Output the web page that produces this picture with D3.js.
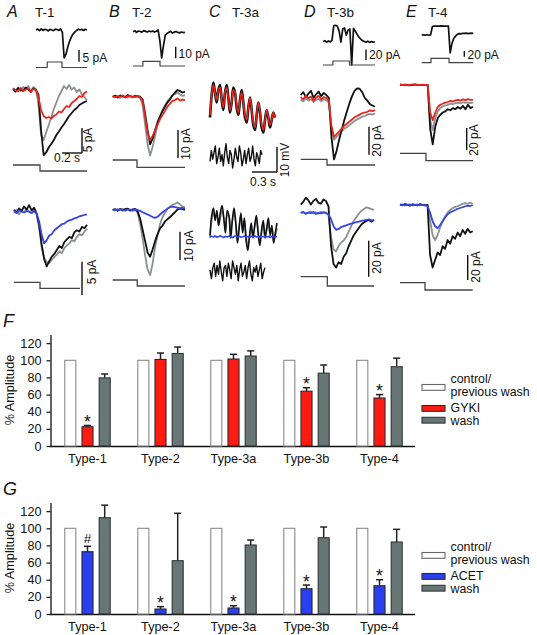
<!DOCTYPE html>
<html><head><meta charset="utf-8">
<script src="https://cdn.jsdelivr.net/npm/d3@7"></script>
<style>
body{margin:0;background:#fff}
svg{display:block}
text{font-family:"Liberation Sans",Arial,Helvetica,sans-serif;fill:#111}
</style>
</head><body>
<svg id="fig" width="537" height="635"></svg>
<script>
// ---------------- bar chart data ----------------
const categories = ["Type-1","Type-2","Type-3a","Type-3b","Type-4"];
const controlF = [100,100,100,100,100];
const gykiMean = [22.5,101,101.5,64,56];
const gykiErr  = [1.5,7.5,5.5,4,4];
const washFMean = [79.5,108,105,85,92.5];
const washFErr  = [4.5,7.5,6,9.5,10];
const sigF = ["*","","","*","*"];

const controlG = [100,100,100,100,100];
const acetMean = [72.7,5.8,7,29.5,33];
const acetErr  = [6.3,2.8,2.7,4.3,7];
const washGMean = [112.4,62.2,80.5,89,84];
const washGErr  = [14.6,55.3,5.8,12.5,14.8];
const sigG = ["#","*","*","*","*"];

const yTicks = [0,20,40,60,80,100,120];

// ---------------- example traces (pA or mV, 0 = baseline) ----------------
const insetA = [0,0.4,-0.3,0.5,-0.2,0.3,0.1,-0.4,0.3,0,-0.3,0.4,0.2,-0.2,0.5,-1,-12,-10.5,-7.5,-5,-3.2,-1.8,-0.9,-0.3,0.4,0,0.3,-0.2,0.3,0];
const insetB = [0,0.8,-0.5,0.6,0.2,-0.4,0.9,0.3,-0.2,0.6,0,0.5,-0.3,0.4,1.5,-8,-22.6,-12,-3,-1.5,-0.5,0.3,-1.2,-0.4,0.2,-0.6,-1,-0.3,-0.8,-0.5];
const insetD = [0,2,-1,1.5,-0.5,2.5,30,31,29,20,-1,24,26,12,22,24,-44,25,20,14,9,5,2,0.5,-1,1,-1.5,0.5,-1,0];
const insetE = [0,0.8,-0.5,1,-0.8,0.4,30,31.6,31,31.5,31.2,31.8,31,31.4,31.6,31,-63,-30,-12,-4,2,5,4,6,5.5,6.5,5,6,6.8,6];

// row 1: control (black), GYKI (red), wash (gray)
const r1A_black = [0.2,-0.3,0.4,0,-0.2,0.5,0.1,-0.4,0.3,0,-1,-8,-13,-12.5,-11.5,-10.8,-10,-9,-8.3,-7.5,-6.8,-6,-5.2,-4.6,-4,-3.6,-3,-2.7,-2.4,-2.2];
const r1A_red   = [0.3,0,-0.3,0.4,-0.2,0.1,0.3,-0.4,0.2,0,-1.5,-4,-5.2,-5.6,-5.4,-5.7,-5.2,-4.9,-4.3,-4.5,-3.8,-3.2,-3.4,-2.6,-2.2,-1.8,-1.2,-1.4,-0.6,-0.3];
const r1A_gray  = [0.4,-0.3,0.5,-0.2,0.6,0.1,0.8,-0.3,0.6,0.2,-3,-9,-10,-8.5,-7,-5.5,-3.8,-2.5,-1.2,-0.2,0.8,0.2,1.0,0.1,0.5,-0.4,0.1,-0.9,-1.4,-2.0];
const r1B_black = [0,0.4,-0.3,0.5,0.1,-0.2,0.6,0.2,-0.1,0.3,0.2,0,-1,-6,-12,-17,-15,-12,-9,-7,-5,-3.5,-2,-1,0.5,1.5,2.4,2.0,1.5,1.8];
const r1B_red   = [0.3,-0.2,0.2,0,0.5,-0.3,0.1,0.3,-0.2,0,0.2,-0.3,-1.5,-7,-13,-15.5,-14,-12,-10,-8,-6.5,-5,-3.5,-2.5,-1.5,-1.2,-0.6,-1.4,-1.0,-1.2];
const r1B_gray  = [-0.2,0.2,0,-0.4,0.3,0,-0.3,0.2,0.1,-0.2,0,-0.5,-3,-10,-17,-21,-18,-14,-10,-7,-5,-3,-1.5,-0.5,0.5,1,1.5,0.8,0.3,0.5];
const r1C_black = [-5,4,9,5,1,6,8,2,-2,5,8,3,-3,1,7,5,-1,-4,2,6,1,-5,-7,-1,3,-2,-8,-10,-4,1,-3,-9,-11,-6,-2,-5,-9,-6,-3,-5];
const r1C_red   = [-4,4,8,5,2,6,7,2,-1,5,7,3,-2,1,6,5,0,-3,2,5,1,-4,-6,-1,3,-2,-7,-9,-4,1,-3,-8,-10,-6,-2,-5,-8,-6,-3,-5];
const r1C_low   = [-2,3,-1,2,5,-3,0,4,-2,1,-4,2,6,0,-3,3,1,-5,-1,4,0,-2,5,2,-4,-1,3,-3,1,4,-2,0,5,-1,-4,2,0,-3,3,1];
const r1D_black = [0,2,-1.5,1,3,-2,0.5,2.5,-1,1.5,0,-2,-30,-46,-40,-32,-25,-18,-12,-6,-1,3,4.8,4.5,2,-2,-4,-6.5,-7.5,-8.4];
const r1D_red   = [-1.5,-3,-0.5,-2.5,-1,-4,-2,-0.5,-3,-1.5,-2,-4,-22,-30,-28,-26,-24,-22,-20.5,-19,-17.5,-16,-15,-14,-13,-12.5,-12,-11,-11.5,-10.7];
const r1D_gray  = [-3.5,-4.5,-2.5,-4,-3,-5,-3.5,-2.8,-4.5,-3,-3.8,-5.5,-24,-32,-30,-28,-26,-24,-23,-21.5,-20,-18.5,-17.5,-16.5,-15.5,-15,-14,-13.5,-14,-13];
const r1E_black = [0.3,-0.2,0.4,0,-0.3,0.2,0.5,-0.1,0.2,0,-0.2,0.1,-40,-54,-38,-30,-27,-25,-24,-22,-23,-21,-22,-20,-21.5,-19,-22,-18,-21,-19.7];
const r1E_red   = [0.5,0,0.3,-0.4,0.2,0.6,0,0.3,-0.2,0.4,0,0.2,-25,-32,-25,-20,-18,-17,-16,-15.5,-14.5,-15,-14,-13.5,-14.2,-13,-13.8,-12.8,-13.5,-13.6];
const r1E_gray  = [0,0.2,-0.3,0.1,0,-0.2,0.3,0,-0.1,0.2,-0.3,0,-32,-41,-30,-24,-21,-19.5,-18.5,-18,-17,-17.5,-16.5,-16,-16.8,-15.5,-16.2,-15.8,-16.5,-16];

// row 2: previous wash (black), ACET (blue), wash (gray)
const r2A_black = [0.3,-0.2,0.5,0.1,0.8,0.3,1.0,0.2,0.6,-0.3,-2,-5,-7.2,-8.3,-7.5,-6.8,-6.4,-5.8,-5.2,-5.5,-4.6,-4.2,-3.8,-4.0,-3.1,-2.8,-3.0,-2.3,-2.5,-2.0];
const r2A_gray  = [-0.2,0.3,-0.4,0.2,-0.1,0.4,0,-0.2,0.3,-0.4,-2.5,-5.5,-7,-7.6,-7.8,-7.3,-6.9,-6.5,-6,-6.3,-5.5,-5.1,-4.8,-4.3,-4.5,-3.8,-3.4,-3.6,-3.0,-2.6];
const r2A_blue  = [0.1,-0.2,0.2,0,-0.1,0.1,0,-0.2,0.1,-0.3,-1.5,-3.5,-4.8,-4.3,-3.6,-3.4,-2.8,-2.5,-2.2,-1.9,-1.8,-1.5,-1.3,-1.2,-1.0,-0.9,-0.7,-0.6,-0.5,-0.4];
const r2B_black = [0,0.3,-0.3,0.4,-0.2,0.3,0.5,-0.2,0.2,0.4,-0.5,-3,-7,-11,-15,-16.5,-14,-11,-8.5,-6.5,-5.5,-4,-3.2,-2.5,-1.6,-0.8,0.2,0.5,0.3,0];
const r2B_gray  = [0.2,-0.2,0.3,0,0.4,-0.1,0.2,0,-0.3,0.1,-1,-5,-10,-16,-21,-23,-19,-13,-9,-5,-2.5,-1,0.5,1.2,1.8,2.2,2.6,2.0,1.2,1.0];
const r2B_blue  = [0,0.2,-0.1,0.3,0,-0.2,0.2,0.1,-0.1,0.2,0,-0.3,-0.8,-1.2,-1.6,-2,-2.5,-2.8,-2.4,-1.6,-0.8,-0.2,0.5,1.0,1.2,1.0,0.8,0.6,0.8,0.5];
const r2C_black = [-3,5,8,3,7,1,6,9,4,-2,7,5,-4,3,8,2,-6,0,6,-2,4,-5,-9,-3,2,-4,1,5,-2,-7,-1,3,-4,0,4,-3,1,-6,-2,2];
const r2C_gray  = [-4,3,6,4,5,1,4,7,4,0,5,5,-2,3,6,2,-4,1,5,0,3,-3,-7,-4,0,-3,0,3,-1,-5,-2,2,-3,-1,2,-2,0,-4,-3,0];
const r2C_blue  = [-3.5,-3.3,-3.6,-3.2,-3.7,-3.4,-3.1,-3.5,-3.8,-3.3,-3.6,-3.2,-3.5,-3.9,-3.4,-3.1,-3.6,-3.3,-3.7,-3.5,-3.2,-3.6,-3.4,-3.8,-3.3,-3.5,-3.1,-3.6,-3.4,-3.7,-3.3,-3.5,-3.2,-3.6,-3.4,-3.8,-3.3,-3.5,-3.6,-3.4];
const r2C_low   = [1,-3,2,4,-2,3,-1,5,0,-4,2,3,-2,4,1,-3,5,2,-1,3,-4,1,4,-2,0,3,-3,2,5,-1,-4,2,0,3,-2,1,4,-3,0,2];
const r2D_black = [3,4.5,6.8,5.5,3,5,6.2,4,3.5,5.8,5,2,-20,-30,-32,-29,-30,-26,-24,-20,-17,-14,-12,-10,-8,-7,-6,-5.5,-6.5,-5.6];
const r2D_gray  = [-1.5,-1,-2.2,-1.4,-0.8,-1.8,-1.2,-2,-1,-1.5,-1.2,-3,-15,-22,-23,-20,-18,-17,-15,-12,-9,-6,-4,-2,-0.5,0.5,1.5,1.0,0.5,0];
const r2D_blue  = [-1.7,-1.2,-2,-1.5,-1.8,-1.1,-2.2,-1.6,-1.9,-1.3,-1.8,-2.5,-5,-9,-11,-10.5,-9.5,-9,-8.5,-8,-7.6,-7.2,-6.8,-6.5,-6,-5.8,-5.5,-5.2,-5.8,-5.6];
const r2E_black = [0.5,-0.3,0.8,0.2,-0.5,0.6,0.1,-0.4,0.7,0,-0.3,0.2,-40,-50,-44,-38,-40,-33,-35,-28,-31,-25,-27,-22,-25,-20,-23,-19,-22,-21];
const r2E_gray  = [0,0.3,-0.2,0.4,0,-0.3,0.2,0.1,-0.2,0.3,0,-0.5,-12,-24,-28,-24,-18,-13,-9,-6,-4,-2.5,-1.5,-1,0,1,1.5,1.0,2,1];
const r2E_blue  = [0,0.2,-0.3,0.1,0.3,-0.2,0,0.2,-0.1,0.1,-0.2,-1,-6,-13,-17,-18.6,-16,-13,-10,-7.5,-6,-5,-4,-3,-2.4,-1.8,-1,-0.5,-0.8,0];

// voltage protocols (fraction of sweep where level changes)
const insetPulse = [[0.22,0.51],[0.19,0.52],[0.19,0.51],[0.18,0.53]];
const row1StepT = [0.365,0.336,0.354,0.356];
const row2StepT = [0.394,0.34,0.363,0.344];

// ---------------- drawing ----------------
const svg = d3.select("#fig");
const C = {black:"#111", red:"#e8261e", gray:"#8c9191", blue:"#3545e6", step:"#444"};

function trace(vals, x0, x1, base, k, color, w, smooth) {
  const xs = d3.scaleLinear().domain([0, vals.length - 1]).range([x0, x1]);
  const ys = d3.scaleLinear().domain([0, 1]).range([base, base - k]);
  const line = d3.line().x((d,i) => xs(i)).y(d => ys(d));
  if (smooth) line.curve(d3.curveCatmullRom);
  svg.append("path")
    .attr("d", line(vals))
    .attr("fill","none").attr("stroke",color).attr("stroke-width",w||1.8)
    .attr("stroke-linejoin","round");
}
function stepDown(t, x0, x1, yHigh, yLow) {
  const xs = d3.scaleLinear().domain([0,1]).range([x0,x1]);
  const pts = [[0,yHigh],[t,yHigh],[t,yLow],[1,yLow]];
  svg.append("path").attr("d", d3.line().x(d=>xs(d[0])).y(d=>d[1])(pts))
    .attr("fill","none").attr("stroke",C.step).attr("stroke-width",1.3);
}
function pulse(p, x0, x1, yLow, yHigh) {
  const xs = d3.scaleLinear().domain([0,1]).range([x0,x1]);
  const pts = [[0,yLow],[p[0],yLow],[p[0],yHigh],[p[1],yHigh],[p[1],yLow],[1,yLow]];
  svg.append("path").attr("d", d3.line().x(d=>xs(d[0])).y(d=>d[1])(pts))
    .attr("fill","none").attr("stroke",C.step).attr("stroke-width",1.2);
}
function vbar(x, y1, y2) {
  svg.append("line").attr("x1",x).attr("x2",x).attr("y1",y1).attr("y2",y2)
    .attr("stroke","#111").attr("stroke-width",1.4);
}
function hbar(x1, x2, y) {
  svg.append("line").attr("x1",x1).attr("x2",x2).attr("y1",y).attr("y2",y)
    .attr("stroke","#111").attr("stroke-width",1.4);
}
function label(txt, x, y, size, opts) {
  opts = opts || {};
  const t = svg.append("text").attr("x",x).attr("y",y).attr("font-size",size).text(txt);
  if (opts.anchor) t.attr("text-anchor",opts.anchor);
  if (opts.italic) t.attr("font-style","italic");
  return t;
}
function rlabel(txt, cx, cy, size) {
  svg.append("text").attr("transform",`translate(${cx},${cy}) rotate(-90)`)
    .attr("text-anchor","middle").attr("font-size",size).text(txt);
}

// panel headers
[["A","T-1",7,35],["B","T-2",109,132],["C","T-3a",209,232],["D","T-3b",304,327],["E","T-4",406,428]]
  .forEach(([L,T,xl,xt]) => { label(L, xl, 17, 16, {italic:true}); label(T, xt, 17, 13.5); });

// insets
trace(insetA, 36, 87, 30, 2.33, C.black, 1.7);
trace(insetB, 133, 185, 31.7, 1.16, C.black, 1.7);
trace(insetD, 323, 375, 41.7, 0.53, C.black, 1.7);
trace(insetE, 421.7, 473.3, 35, 0.285, C.black, 1.7);
pulse(insetPulse[0], 36, 87, 67.5, 62);
pulse(insetPulse[1], 133, 185, 66, 61.3);
pulse(insetPulse[2], 323, 375, 65, 61);
pulse(insetPulse[3], 421.7, 473.3, 62.7, 58.3);
vbar(79, 50, 61.7); label("5 pA", 82.5, 61.5, 12);
vbar(175.7, 46.7, 58.3); label("10 pA", 178.5, 58, 12);
vbar(366, 49.4, 60); label("20 pA", 369, 59, 12);
vbar(464.3, 51, 56.7); label("20 pA", 467.5, 59, 12);

// row 1
trace(r1A_gray, 13, 87, 90, 5, C.gray); trace(r1A_black, 13, 87, 90, 5, C.black); trace(r1A_red, 13, 87, 90, 5, C.red);
trace(r1B_gray, 112.7, 185, 96.7, 2.8, C.gray); trace(r1B_black, 112.7, 185, 96.7, 2.8, C.black); trace(r1B_red, 112.7, 185, 96.7, 2.8, C.red);
trace(r1C_black, 210, 275, 105, 2.5, C.black, 2.6, true); trace(r1C_red, 210, 275, 105, 2.5, C.red, 1.5, true);
trace(r1C_low, 210, 262, 157, 2.2, C.black, 1.4);
trace(r1D_gray, 300.7, 375, 95, 1.4, C.gray); trace(r1D_black, 300.7, 375, 95, 1.4, C.black); trace(r1D_red, 300.7, 375, 95, 1.4, C.red);
trace(r1E_gray, 400, 473, 85, 1.1, C.gray); trace(r1E_black, 400, 473, 85, 1.1, C.black); trace(r1E_red, 400, 473, 85, 1.1, C.red);
stepDown(row1StepT[0], 13, 87, 165, 171);
stepDown(row1StepT[1], 112.7, 185, 160, 167.3);
stepDown(row1StepT[2], 300.7, 375, 159.3, 165);
stepDown(row1StepT[3], 400, 473, 153.3, 160.7);
vbar(82, 128, 153); hbar(62, 82, 153); label("0.2 s", 67, 162, 12, {anchor:"middle"}); rlabel("5 pA", 92, 140, 12);
vbar(178, 130, 158); rlabel("10 pA", 190, 144, 12);
vbar(277, 147, 172); hbar(252, 277, 172); label("0.3 s", 263, 186, 12, {anchor:"middle"}); rlabel("10 mV", 289, 160, 12);
vbar(369, 126.7, 154.7); rlabel("20 pA", 381, 141, 12);
vbar(466.7, 128, 150); rlabel("20 pA", 478, 140, 12);

// row 2
trace(r2A_gray, 14, 87, 211.7, 6.6, C.gray); trace(r2A_black, 14, 87, 211.7, 6.6, C.black); trace(r2A_blue, 14, 87, 211.7, 6.6, C.blue);
trace(r2B_gray, 112.7, 185, 210, 2.83, C.gray); trace(r2B_black, 112.7, 185, 210, 2.83, C.black); trace(r2B_blue, 112.7, 185, 210, 2.83, C.blue);
trace(r2C_gray, 210, 277, 228, 2.5, C.gray, 1.6, true); trace(r2C_black, 210, 277, 228, 2.5, C.black, 1.6, true); trace(r2C_blue, 210, 277, 228, 2.5, C.blue, 1.6);
trace(r2C_low, 210, 265, 272, 2.2, C.black, 1.4);
trace(r2D_gray, 300.7, 374, 210, 1.8, C.gray); trace(r2D_black, 300.7, 374, 210, 1.8, C.black); trace(r2D_blue, 300.7, 374, 210, 1.8, C.blue);
trace(r2E_gray, 400, 472.7, 205, 1.25, C.gray); trace(r2E_black, 400, 472.7, 205, 1.25, C.black); trace(r2E_blue, 400, 472.7, 205, 1.25, C.blue);
stepDown(row2StepT[0], 14, 80, 282.3, 288.3);
stepDown(row2StepT[1], 112.7, 185, 280, 286);
stepDown(row2StepT[2], 300.7, 374, 276.7, 286);
stepDown(row2StepT[3], 400, 472.7, 282.7, 290);
vbar(82, 261.7, 295); rlabel("5 pA", 96, 272, 12);
vbar(180, 231.7, 260); rlabel("10 pA", 193, 246, 12);
vbar(368.7, 240.7, 276.7); rlabel("20 pA", 381, 258, 12);
vbar(467.7, 255, 280); rlabel("20 pA", 480, 267, 12);

// ---------------- bar charts ----------------
const FS = 12.7;
function barChart(zeroY, letter, treat, treatErr, treatColor, treatName, wash, washErr, ctrl, sig) {
  const g = svg.append("g");
  const x0 = d3.scaleBand().domain(categories).range([51,416]).paddingInner(0.364).paddingOuter(0.182);
  const x1 = d3.scaleBand().domain(["ctrl","treat","wash"]).range([0, x0.bandwidth()]).paddingInner(0.3);
  const y = d3.scaleLinear().domain([0,130]).range([zeroY, zeroY - 111.4]);

  label(letter, 3, zeroY - 119, 18, {italic:true});

  const yAxis = g.append("g").attr("transform","translate(50.5,0)")
    .call(d3.axisLeft(y).tickValues(yTicks).tickSize(4).tickSizeOuter(0).tickPadding(5));
  yAxis.select(".domain").attr("stroke","#111").attr("stroke-width",1.3);
  yAxis.selectAll(".tick line").attr("stroke","#111").attr("stroke-width",1.2);
  yAxis.selectAll(".tick text").attr("font-size",FS).attr("font-family","Liberation Sans, Arial, sans-serif").attr("fill","#111");
  g.append("line").attr("x1",50).attr("x2",415).attr("y1",zeroY+0.5).attr("y2",zeroY+0.5)
    .attr("stroke","#111").attr("stroke-width",1.3);

  g.append("text").attr("transform",`translate(14,${zeroY-56}) rotate(-90)`)
    .attr("text-anchor","middle").attr("font-size",FS).text("% Amplitude");

  categories.forEach((c,i) => {
    const gx = x0(c);
    const series = [
      {key:"ctrl", v:ctrl[i], e:0, fill:"#fff", stroke:"#8a8a8a"},
      {key:"treat", v:treat[i], e:treatErr[i], fill:treatColor, stroke:"#2a2a2a"},
      {key:"wash", v:wash[i], e:washErr[i], fill:"#697676", stroke:"#2f3535"}
    ];
    series.forEach(s => {
      const bx = gx + x1(s.key), bw = x1.bandwidth();
      if (s.e > 0) {
        const cx = bx + bw/2;
        g.append("line").attr("x1",cx).attr("x2",cx).attr("y1",y(s.v)).attr("y2",y(s.v+s.e))
          .attr("stroke","#222").attr("stroke-width",1.5);
        g.append("line").attr("x1",cx-3.5).attr("x2",cx+3.5).attr("y1",y(s.v+s.e)).attr("y2",y(s.v+s.e))
          .attr("stroke","#222").attr("stroke-width",1.5);
      }
      g.append("rect").attr("x",bx+0.5).attr("y",y(s.v)).attr("width",bw-1).attr("height",zeroY - y(s.v))
        .attr("fill",s.fill).attr("stroke",s.stroke).attr("stroke-width",1.1);
    });
    if (sig[i]) {
      const cx = gx + x1("treat") + x1.bandwidth()/2;
      const top = y(treat[i] + treatErr[i]);
      const isHash = sig[i] === "#";
      g.append("text").attr("x",cx).attr("y", isHash ? top - 3 : top + 2.5)
        .attr("text-anchor","middle").attr("font-size", isHash ? 13.5 : 17.5).attr("fill","#333").text(sig[i]);
    }
    g.append("text").attr("x", gx + x0.bandwidth()/2).attr("y", zeroY + 16.5)
      .attr("text-anchor","middle").attr("font-size",FS).text(c);
  });

  // legend
  const lx = 422, tx = 450.5;
  const leg = [
    {fill:"#fff", stroke:"#666", ry:-61.5, texts:[["control/",-63.5],["previous wash",-50.5]]},
    {fill:treatColor, stroke:"#2a2a2a", ry:-40.5, texts:[[treatName,-34.5]]},
    {fill:"#697676", stroke:"#2f3535", ry:-28.7, texts:[["wash",-21.3]]}
  ];
  leg.forEach(l => {
    g.append("rect").attr("x",lx).attr("y",zeroY + l.ry).attr("width",23).attr("height",5.8)
      .attr("fill",l.fill).attr("stroke",l.stroke).attr("stroke-width",1.1);
    l.texts.forEach(([t,dy]) => g.append("text").attr("x",tx).attr("y",zeroY+dy).attr("font-size",12.4).text(t));
  });
}

barChart(446, "F", gykiMean, gykiErr, "#ff1a12", "GYKI", washFMean, washFErr, controlF, sigF);
barChart(614, "G", acetMean, acetErr, "#2a3ff0", "ACET", washGMean, washGErr, controlG, sigG);
</script>
</body></html>
